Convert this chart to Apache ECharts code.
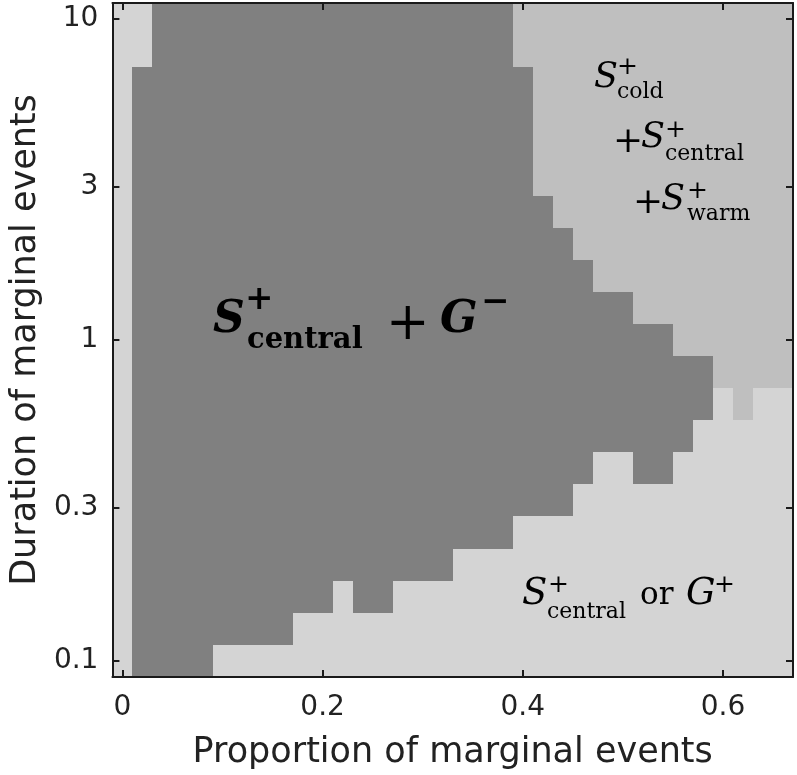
<!DOCTYPE html>
<html>
<head>
<meta charset="utf-8">
<script src="https://cdn.jsdelivr.net/npm/echarts@6/dist/echarts.min.js"></script>
<style>
html,body{margin:0;padding:0;background:#fff;}
#chart{width:797px;height:775px;}
</style>
</head>
<body>
<div id="chart"></div>
<script>
// ---- data ----
// proportion of marginal events (cell centres)
const proportions = [0, 0.02, 0.04, 0.06, 0.08, 0.10, 0.12, 0.14, 0.16, 0.18,
  0.20, 0.22, 0.24, 0.26, 0.28, 0.30, 0.32, 0.34, 0.36, 0.38,
  0.40, 0.42, 0.44, 0.46, 0.48, 0.50, 0.52, 0.54, 0.56, 0.58,
  0.60, 0.62, 0.64, 0.66];
// duration of marginal events (cell centres, log-spaced)
const durations = [0.1, 0.1259, 0.1585, 0.1995, 0.2512, 0.3162, 0.3981, 0.5012, 0.631, 0.7943,
  1, 1.259, 1.585, 1.995, 2.512, 3.162, 3.981, 5.012, 6.31, 7.943, 10];
// regime per cell, one string per duration row (bottom to top), one digit per proportion column
// 0 = S+central or G+, 1 = S+central + G-, 2 = S+cold + S+central + S+warm
const regimeRows = [
  "0111100000" + "0000000000" + "0000000000" + "0000",
  "0111111110" + "0000000000" + "0000000000" + "0000",
  "0111111111" + "1011000000" + "0000000000" + "0000",
  "0111111111" + "1111111000" + "0000000000" + "0000",
  "0111111111" + "1111111111" + "0000000000" + "0000",
  "0111111111" + "1111111111" + "1110000000" + "0000",
  "0111111111" + "1111111111" + "1111001100" + "0000",
  "0111111111" + "1111111111" + "1111111110" + "0000",
  "0111111111" + "1111111111" + "1111111111" + "0200",
  "0111111111" + "1111111111" + "1111111111" + "2222",
  "0111111111" + "1111111111" + "1111111122" + "2222",
  "0111111111" + "1111111111" + "1111112222" + "2222",
  "0111111111" + "1111111111" + "1111222222" + "2222",
  "0111111111" + "1111111111" + "1112222222" + "2222",
  "0111111111" + "1111111111" + "1122222222" + "2222",
  "0111111111" + "1111111111" + "1222222222" + "2222",
  "0111111111" + "1111111111" + "1222222222" + "2222",
  "0111111111" + "1111111111" + "1222222222" + "2222",
  "0111111111" + "1111111111" + "1222222222" + "2222",
  "0011111111" + "1111111111" + "2222222222" + "2222",
  "0011111111" + "1111111111" + "2222222222" + "2222"
];
const xTicks = [0, 0.2, 0.4, 0.6];
const yTicks = [0.1, 0.3, 1, 3, 10];
const xRange = [-0.01, 0.67];
const yRange = [0.0891, 11.22];

// ---- build cells ----
const regimeColors = ['#d4d4d4', '#808080', '#bfbfbf'];
function edgesLinear(v) {
  return v.map((c, i) => {
    const lo = i > 0 ? (v[i - 1] + c) / 2 : c - (v[1] - v[0]) / 2;
    const hi = i < v.length - 1 ? (v[i + 1] + c) / 2 : c + (c - v[i - 1]) / 2;
    return [lo, hi];
  });
}
function edgesLog(v) {
  return v.map((c, i) => {
    const lo = i > 0 ? Math.sqrt(v[i - 1] * c) : c / Math.sqrt(v[1] / v[0]);
    const hi = i < v.length - 1 ? Math.sqrt(v[i + 1] * c) : c * Math.sqrt(c / v[i - 1]);
    return [lo, hi];
  });
}
const xe = edgesLinear(proportions);
const ye = edgesLog(durations);
const cells = [];
regimeRows.forEach((row, j) => {
  for (let i = 0; i < proportions.length; i++) {
    cells.push([proportions[i], durations[j], +row[i], xe[i][0], xe[i][1], ye[j][0], ye[j][1]]);
  }
});

const frameColor = '#1a1a1a';
const tickFont = 'DejaVu Sans';
function axisCommon(extra) {
  return Object.assign({
    z: 10,
    axisLine: { show: true, onZero: false, lineStyle: { color: frameColor, width: 2 } },
    splitLine: { show: false }
  }, extra);
}

// ---- math-like annotation pieces ----
const serif = 'DejaVu Serif';
function piece(text, left, baseline, fs, opts) {
  opts = opts || {};
  return {
    type: 'text', x: left, y: baseline - 0.35 * fs, z: 100,
    style: {
      text: text, fill: '#000', fontFamily: serif, fontSize: fs,
      fontStyle: opts.italic ? 'italic' : 'normal',
      fontWeight: opts.bold ? 'bold' : 'normal',
      align: 'left', verticalAlign: 'middle'
    }
  };
}
function sym(text, left, cy, fs, opts) {
  opts = opts || {};
  return {
    type: 'text', x: left, y: cy, z: 100,
    style: {
      text: text, fill: '#000', fontFamily: serif, fontSize: fs,
      fontWeight: opts.bold ? 'bold' : 'normal',
      align: 'left', verticalAlign: 'middle'
    }
  };
}
const graphics = [
  // S+central + G-  (bold)
  piece('S', 213, 336, 44, { italic: true, bold: true }),
  sym('+', 245, 300, 34, { bold: true }),
  piece('central', 247, 351, 29, { bold: true }),
  sym('+', 386, 325, 52),
  piece('G', 440, 336, 44, { italic: true, bold: true }),
  sym('\u2212', 481, 303, 34, { bold: true }),
  // S+cold + S+central + S+warm
  piece('S', 594, 90, 35, { italic: true }),
  sym('+', 617, 67, 25),
  piece('cold', 617, 100, 22),
  sym('+', 613, 143, 36),
  piece('S', 641, 150, 35, { italic: true }),
  sym('+', 665, 130, 25),
  piece('central', 665, 162, 22),
  sym('+', 633, 204, 36),
  piece('S', 661, 212, 35, { italic: true }),
  sym('+', 687, 191, 25),
  piece('warm', 687, 222, 22),
  // S+central or G+
  piece('S', 522, 607, 37, { italic: true }),
  sym('+', 548, 585, 25),
  piece('central', 547, 620, 22),
  piece('or', 640, 607, 31),
  piece('G', 686, 607, 37, { italic: true }),
  sym('+', 714, 585, 25)
];

const chart = echarts.init(document.getElementById('chart'), null, { renderer: 'canvas' });
chart.setOption({
  animation: false,
  backgroundColor: '#ffffff',
  grid: { left: 109, right: 4, top: 3, bottom: 98, containLabel: false },
  xAxis: [
    axisCommon({
      type: 'value', position: 'bottom', min: xRange[0], max: xRange[1],
      axisTick: { show: true, inside: true, length: 7, customValues: xTicks, lineStyle: { color: frameColor, width: 2 } },
      axisLabel: { show: true, customValues: xTicks, fontFamily: tickFont, fontSize: 28, color: '#222', margin: 17 },
      name: 'Proportion of marginal events', nameLocation: 'middle', nameGap: 58,
      nameTextStyle: { fontFamily: tickFont, fontSize: 35, color: '#222' }
    }),
    axisCommon({
      type: 'value', position: 'top', min: xRange[0], max: xRange[1],
      axisTick: { show: true, inside: true, length: 7, customValues: xTicks, lineStyle: { color: frameColor, width: 2 } },
      axisLabel: { show: false }
    })
  ],
  yAxis: [
    axisCommon({
      type: 'log', logBase: 10, position: 'left', min: yRange[0], max: yRange[1],
      axisTick: { show: true, inside: true, length: 7, customValues: yTicks, lineStyle: { color: frameColor, width: 2 } },
      axisLabel: { show: true, customValues: yTicks, fontFamily: tickFont, fontSize: 28, color: '#222', margin: 14 },
      minorTick: { show: false },
      name: 'Duration of marginal events', nameLocation: 'middle', nameGap: 68,
      nameTextStyle: { fontFamily: tickFont, fontSize: 35, color: '#222' }
    }),
    axisCommon({
      type: 'log', logBase: 10, position: 'right', min: yRange[0], max: yRange[1],
      axisTick: { show: true, inside: true, length: 7, customValues: yTicks, lineStyle: { color: frameColor, width: 2 } },
      axisLabel: { show: false }
    })
  ],
  series: [{
    type: 'custom',
    xAxisIndex: 0, yAxisIndex: 0,
    z: 1,
    clip: true,
    data: cells,
    encode: { x: 0, y: 1 },
    renderItem: function (params, api) {
      const r = api.value(2);
      const p0 = api.coord([api.value(3), api.value(5)]);
      const p1 = api.coord([api.value(4), api.value(6)]);
      const xa = Math.round(Math.min(p0[0], p1[0])), xb = Math.round(Math.max(p0[0], p1[0]));
      const ya = Math.round(Math.min(p0[1], p1[1])), yb = Math.round(Math.max(p0[1], p1[1]));
      return {
        type: 'rect',
        shape: { x: xa, y: ya, width: xb - xa, height: yb - ya },
        style: { fill: regimeColors[r] }
      };
    }
  }],
  graphic: graphics
});
</script>
</body>
</html>
